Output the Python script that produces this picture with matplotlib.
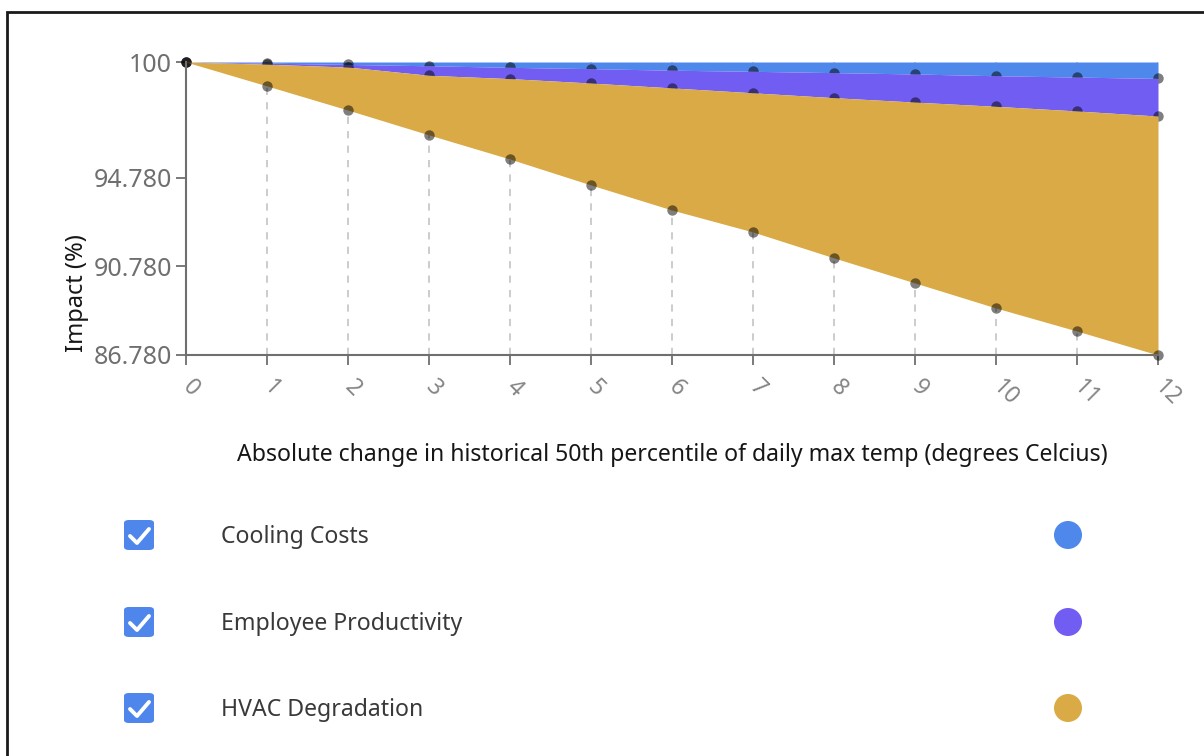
import numpy as np
import matplotlib
matplotlib.use("Agg")
import matplotlib.pyplot as plt
from matplotlib.patches import FancyBboxPatch, Circle, Rectangle
from matplotlib.lines import Line2D

plt.rcParams['font.family'] = ['Noto Sans', 'DejaVu Sans']

# data (impact in % points lost at each temperature step)
temp_change = [0, 1, 2, 3, 4, 5, 6, 7, 8, 9, 10, 11, 12]
cooling_costs = [0, 0.05, 0.11, 0.17, 0.24, 0.30, 0.37, 0.42, 0.48, 0.54, 0.62, 0.68, 0.74]
employee_productivity = [0, 0.05, 0.12, 0.43, 0.51, 0.65, 0.80, 0.97, 1.13, 1.27, 1.38, 1.53, 1.70]
hvac_degradation = [0, 0.98, 1.94, 2.69, 3.63, 4.60, 5.51, 6.28, 7.23, 8.16, 9.10, 9.93, 10.78]

series_names = ['Cooling Costs', 'Employee Productivity', 'HVAC Degradation']
series_colors = ['#4d88ea', '#725df3', '#d9aa45']
y_ticks = [86.78, 90.78, 94.78, 100]
y_tick_labels = ['86.780', '90.780', '94.780', '100']

W, H = 1204, 756
fig = plt.figure(figsize=(W / 100, H / 100), dpi=100)


def fx(px):
    return px / W


def fy(py):
    return 1 - py / H


ax = fig.add_axes([fx(186), fy(355), fx(1158) - fx(186), fy(62) - fy(355)])

x = np.array(temp_change)
top = np.full(len(x), 100.0)
levels = [top]
for vals in [cooling_costs, employee_productivity, hvac_degradation]:
    levels.append(levels[-1] - np.array(vals))

# dashed guides from the axis up, behind the areas
ax.vlines(x[1:], 86.78, 100, colors='#c8c8c8', linestyles=(0, (4, 4)), linewidth=1.3, zorder=1)

z = 2
for i, color in enumerate(series_colors):
    ax.fill_between(x, levels[i], levels[i + 1], color=color, linewidth=0, zorder=z)
    ax.plot(x, levels[i + 1], linestyle='none', marker='o', markersize=7.5,
            markerfacecolor='black', markeredgewidth=0, alpha=0.5, clip_on=False, zorder=z + 1)
    z += 2

ax.set_xlim(0, 12)
ax.set_ylim(86.78, 100)
ax.set_yticks(y_ticks)
ax.set_yticklabels(y_tick_labels)
ax.set_xticks(temp_change)
ax.set_xticklabels([str(t) for t in temp_change], rotation=-45, ha='left',
                   va='center', rotation_mode='anchor')

for side in ['top', 'right']:
    ax.spines[side].set_visible(False)
for side in ['left', 'bottom']:
    ax.spines[side].set_color('#6f6f6f')
    ax.spines[side].set_linewidth(1.5)
    ax.spines[side].set_zorder(10)
ax.tick_params(axis='both', colors='#6f6f6f', length=7, width=1.3)
ax.tick_params(axis='x', pad=14, labelcolor='#858585', labelsize=16.5)
ax.tick_params(axis='y', pad=3, labelcolor='#6f6f6f', labelsize=18)

ax.text(-0.112, 0.21, 'Impact (%)', transform=ax.transAxes, rotation=90,
        ha='center', va='center', fontsize=17, color='#161616')
fig.text(fx(672), fy(455), 'Absolute change in historical 50th percentile of daily max temp (degrees Celcius)',
         ha='center', va='center', fontsize=16.6, color='#161616')

# legend rows with check boxes and colour dots
row_y = [535, 622, 708]
for name, color, ry in zip(series_names, series_colors, row_y):
    box = FancyBboxPatch((fx(124), fy(ry + 15)), fx(30), fy(ry - 15) - fy(ry + 15),
                         boxstyle='round,pad=0,rounding_size=0.004',
                         transform=fig.transFigure, facecolor='#4f86ec', edgecolor='none')
    fig.add_artist(box)
    fig.add_artist(Line2D([fx(130), fx(137), fx(149)], [fy(ry + 1), fy(ry + 8), fy(ry - 6)],
                          transform=fig.transFigure, color='white', linewidth=2.8,
                          solid_capstyle='round', solid_joinstyle='round'))
    fig.text(fx(221), fy(ry + 2), name, ha='left', va='center', fontsize=16.6, color='#393939')
    fig.add_artist(Circle((1068, H - ry), 14, transform=None, facecolor=color, edgecolor='none'))

# outer frame of the card
fig.add_artist(Rectangle((fx(7), fy(800)), fx(1300), fy(12) - fy(800), transform=fig.transFigure,
                         fill=False, edgecolor='#1a1a1a', linewidth=2))

fig.savefig('out.png', dpi=100)
